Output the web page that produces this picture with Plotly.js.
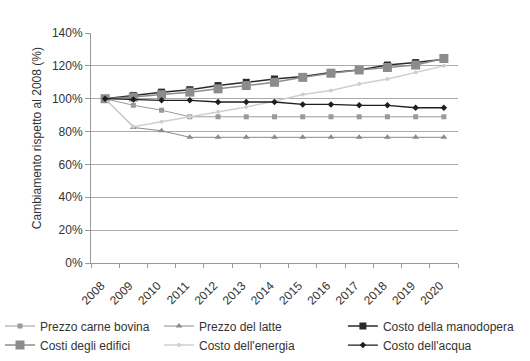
<!DOCTYPE html>
<html><head><meta charset="utf-8">
<script src="https://cdn.plot.ly/plotly-3.0.1.min.js"></script>
<style>html,body{margin:0;padding:0;background:#fff}#chart{width:530px;height:361px}</style>
</head><body><div id="chart"></div>
<script>
const years = ['2008','2009','2010','2011','2012','2013','2014','2015','2016','2017','2018','2019','2020'];
const carneBovina = [100, 96, 93, 89, 89, 89, 89, 89, 89, 89, 89, 89, 89];
const latte = [100, 82.5, 80.5, 76.5, 76.5, 76.5, 76.5, 76.5, 76.5, 76.5, 76.5, 76.5, 76.5];
const manodopera = [100, 102, 104, 105.5, 108, 110, 112, 113.5, 116, 117.5, 120.5, 122, 124];
const edifici = [100, 101, 102.5, 104, 106, 108, 110, 113, 115.5, 117.5, 119, 120.5, 124.5];
const energia = [100, 83, 86, 89, 92, 95, 98.5, 102.5, 105, 109, 112, 116, 120];
const acqua = [100, 99.5, 99, 99, 98, 98, 98, 96.5, 96.5, 96, 96, 94.5, 94.5];
const yTicks = [0, 20, 40, 60, 80, 100, 120, 140];
const yTitle = 'Cambiamento rispetto al 2008 (%)';

const traces = [
  {name:'Prezzo carne bovina', y:carneBovina, legend:'legend', line:{color:'#9a9a9a',width:1}, marker:{symbol:'square',size:5,color:'#9a9a9a'}},
  {name:'Prezzo del latte', y:latte, legend:'legend2', line:{color:'#8a8a8a',width:1}, marker:{symbol:'triangle-up',size:6,color:'#8a8a8a'}},
  {name:'Costo della manodopera', y:manodopera, legend:'legend3', line:{color:'#2a2a2a',width:1.5}, marker:{symbol:'square',size:7,color:'#2a2a2a'}},
  {name:'Costi degli edifici', y:edifici, legend:'legend', line:{color:'#8c8c8c',width:1.5}, marker:{symbol:'square',size:9,color:'#8c8c8c'}},
  {name:"Costo dell'energia", y:energia, legend:'legend2', line:{color:'#cfcfcf',width:1.5}, marker:{symbol:'circle',size:4,color:'#cfcfcf'}},
  {name:"Costo dell'acqua", y:acqua, legend:'legend3', line:{color:'#1e1e1e',width:1.3}, marker:{symbol:'diamond',size:5,color:'#1e1e1e'}}
].map(t => Object.assign({type:'scatter', mode:'lines+markers', x:years}, t));

function leg(x){
  return {orientation:'v', xref:'container', yref:'container', x:x, y:0.137, xanchor:'left', yanchor:'top',
          font:{size:12, color:'#333'}, tracegroupgap:0, itemwidth:30, bgcolor:'rgba(0,0,0,0)'};
}

const layout = {
  width:530, height:361,
  margin:{l:91, r:72, t:33, b:98, autoexpand:false},
  paper_bgcolor:'#fff', plot_bgcolor:'#fff',
  font:{family:'Liberation Sans, Arial, sans-serif', size:12, color:'#333'},
  showlegend:true,
  legend:leg(0.0),
  legend2:leg(0.3),
  legend3:leg(0.647),
  xaxis:{type:'category', tickangle:-45, tickson:'boundaries', ticks:'outside', ticklen:4, tickcolor:'#999',
         ticklabelstandoff:10, ticklabelshift:-4, automargin:false, dtick:1,
         showline:true, linecolor:'#999', linewidth:1, showgrid:false, tickfont:{size:12,color:'#333'}, range:[-0.5,12.5], fixedrange:true},
  yaxis:{range:[0,140], tickvals:yTicks, ticktext:yTicks.map(v=>v+'%'), ticks:'outside', ticklen:5, tickcolor:'#999',
         automargin:false,
         showline:true, linecolor:'#999', linewidth:1, gridcolor:'#aaa', gridwidth:1, zeroline:false,
         tickfont:{size:12,color:'#333'}},
  annotations:[{text:yTitle, xref:'paper', yref:'paper', x:-0.147, y:0.543, xanchor:'center', yanchor:'middle',
                textangle:-90, showarrow:false, font:{size:12,color:'#333'}}]
};
Plotly.newPlot('chart', traces, layout, {displayModeBar:false, staticPlot:true});
</script></body></html>
